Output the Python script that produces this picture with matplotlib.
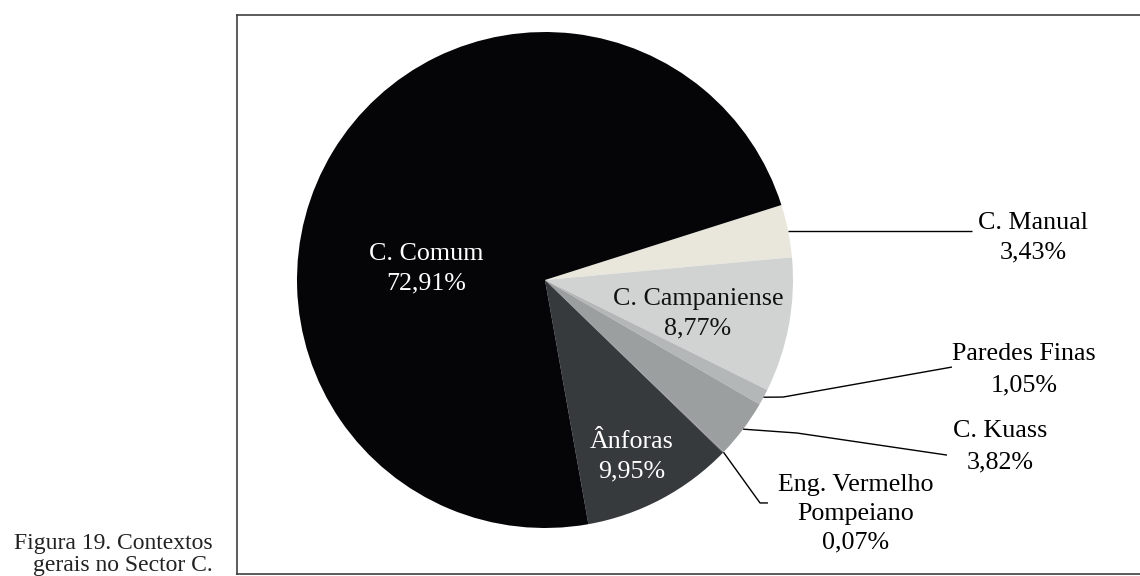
import matplotlib.pyplot as plt
import numpy as np

plt.rcParams['font.family'] = ['Liberation Serif', 'DejaVu Serif']

# clockwise from the C. Comum / C. Manual boundary
names = ['C. Manual', 'C. Campaniense', 'Paredes Finas', 'C. Kuass',
         'Eng. Vermelho\nPompeiano', 'Ânforas', 'C. Comum']
values = [3.43, 8.77, 1.05, 3.82, 0.07, 9.95, 72.91]
pct_text = ['3,43%', '8,77%', '1,05%', '3,82%', '0,07%', '9,95%', '72,91%']
colors = ['#e9e7db', '#d1d3d2', '#b4b7b8', '#9c9fa0', '#8a8d8f', '#373a3d', '#050508']

fig = plt.figure(figsize=(11.4, 5.76), dpi=100)
# axes = the framed box, 1 data unit = pie radius (248 px)
ax = fig.add_axes([237/1140, 2/576, (1145-237)/1140, (574-15)/576])

wedges, _ = ax.pie(values, colors=colors, startangle=17.6, counterclock=False,
                   radius=1.0, frame=True, wedgeprops=dict(linewidth=0))

ax.set_aspect('auto')
ax.set_xlim((237-545)/248, (1145-545)/248)
ax.set_ylim((280-574)/248, (280-15)/248)
ax.set_xticks([])
ax.set_yticks([])
for s in ax.spines.values():
    s.set_color('#404040')
    s.set_linewidth(1.2)

FS = 18.7


def edge_point(w):
    a = np.deg2rad((w.theta1 + w.theta2) / 2)
    return np.cos(a), np.sin(a)


# labels inside the pie
ax.text(-0.480, 0.045, names[6] + '\n' + pct_text[6], color='white', fontsize=FS,
        ha='center', va='center', linespacing=1.46)
ax.text(0.617, -0.137, names[1] + '\n' + pct_text[1], color='#111111', fontsize=FS,
        ha='center', va='center', linespacing=1.46)
ax.text(0.351, -0.712, names[5] + '\n' + pct_text[5], color='white', fontsize=FS,
        ha='center', va='center', linespacing=1.46)

# labels outside with leader lines
leaders = {
    0: ([1.722], None, (1.968, 0.170), 1.44),
    2: ([0.960, 1.641], [-0.472, -0.351], (1.931, -0.362), 1.56),
    3: ([1.016, 1.621], [-0.617, -0.706], (1.835, -0.672), 1.56),
    4: ([0.867, 0.899], [-0.899, -0.899], (1.254, -0.942), 1.38),
}
for i, (xs, ys, tpos, ls) in leaders.items():
    x0, y0 = edge_point(wedges[i])
    if ys is None:
        ys = [y0] * len(xs)
    ax.plot([x0] + xs, [y0] + ys, color='black', lw=1.0, solid_capstyle='butt')
    ax.text(tpos[0], tpos[1], names[i] + '\n' + pct_text[i], color='black',
            fontsize=FS, ha='center', va='center', linespacing=ls)

fig.text(213/1140, 1 - 549/576, 'Figura 19. Contextos', fontsize=17,
         ha='right', va='baseline', color='#222222')
fig.text(213/1140, 1 - 571/576, 'gerais no Sector C.', fontsize=17,
         ha='right', va='baseline', color='#222222')

plt.savefig('out.png', dpi=100, facecolor='white')
plt.close()
